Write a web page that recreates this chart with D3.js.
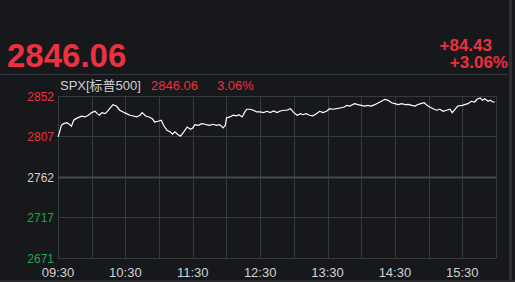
<!DOCTYPE html>
<html>
<head>
<meta charset="utf-8">
<script src="https://cdn.jsdelivr.net/npm/d3@7"></script>
<style>
  html, body { margin: 0; padding: 0; background: #16181c; overflow: hidden; }
  text { font-family: Arial, "Liberation Sans", "Noto Sans CJK SC", sans-serif; }
</style>
</head>
<body>
<div id="my_dataviz"></div>
<script>
// quote header
const lastPrice = "2846.06";
const change = "+84.43";
const changePct = "+3.06%";
const prevClose = 2761.63;

// minutes since 09:30 and price at that minute
const minutes = [0, 1, 3, 5, 8, 10, 12, 14, 16, 18, 21, 24, 27, 30, 33, 35, 37, 39, 42, 44, 46, 49, 52, 55, 58,
  61, 64, 67, 70, 73, 75, 78, 81, 84, 86, 89, 92, 94, 97, 100, 102, 104, 107, 109, 112, 115, 118, 120, 122, 125,
  128, 131, 132, 135, 138, 141, 144, 147, 149, 150, 153, 156, 159, 161, 164, 166, 168, 171, 174, 177, 180,
  183, 186, 189, 192, 195, 198, 201, 204, 207, 210, 213, 216, 218, 221, 224, 227, 230, 233, 236, 239,
  242, 245, 248, 251, 255, 257, 260, 262, 264, 267, 270, 273, 276, 279, 282, 285, 288, 291, 294, 297,
  300, 303, 306, 309, 312, 315, 318, 320, 323, 326, 328, 331, 334, 337, 340, 343, 346, 349, 351, 354,
  356, 360, 362, 365, 368, 371, 373, 376, 378, 380, 383, 385, 387, 389];
const prices = [2806.3, 2810.0, 2819.3, 2821.1, 2822.2, 2820.4, 2818.2, 2824.9, 2826.7, 2827.8, 2829.4, 2828.6, 2830.5, 2833.4, 2834.9, 2832.3, 2830.5, 2833.4, 2832.3, 2834.9, 2837.8, 2842.3, 2840.8, 2836.1, 2834.2,
  2832.3, 2830.5, 2829.7, 2828.6, 2830.5, 2833.4, 2829.7, 2828.6, 2826.7, 2823.0, 2823.8, 2824.9, 2819.3, 2813.7, 2811.9, 2809.3, 2811.9, 2808.8, 2807.1, 2811.9, 2817.4, 2814.9, 2816.3, 2820.0, 2819.3,
  2821.1, 2820.4, 2820.0, 2819.3, 2820.4, 2819.3, 2820.0, 2816.3, 2819.3, 2827.5, 2828.6, 2830.5, 2829.7, 2831.1, 2828.6, 2833.4, 2837.2, 2837.2, 2836.1, 2834.2, 2834.2,
  2833.4, 2834.9, 2833.4, 2835.3, 2833.4, 2835.3, 2836.1, 2836.1, 2837.8, 2833.4, 2830.5, 2832.3, 2831.1, 2832.3, 2830.5, 2829.7, 2832.3, 2834.9, 2833.4, 2834.9,
  2837.8, 2837.2, 2837.8, 2838.6, 2839.7, 2841.6, 2840.8, 2842.3, 2843.4, 2842.3, 2841.6, 2840.8, 2841.6, 2840.8, 2842.3, 2844.2, 2846.1, 2848.3, 2847.2, 2844.5,
  2843.4, 2842.3, 2843.4, 2842.3, 2842.7, 2841.6, 2840.8, 2842.3, 2843.4, 2844.5, 2842.3, 2839.7, 2837.8, 2836.1, 2837.2, 2834.9, 2836.1, 2837.2, 2833.4, 2837.8,
  2840.8, 2841.6, 2842.3, 2843.4, 2846.1, 2845.3, 2848.3, 2849.8, 2847.2, 2849.0, 2846.1, 2847.2, 2845.3, 2845.3];

// axis labels
const yTicks = [2852, 2807, 2762, 2717, 2671];
const xTickMinutes = [0, 60, 120, 180, 240, 300, 360];
const xTickLabels = ["09:30", "10:30", "11:30", "12:30", "13:30", "14:30", "15:30"];

const red = "#ec3140", green = "#22a54a", light = "#d2d2d2", gridColor = "#36393e";

const W = 515, H = 282;
const margin = { top: 96, right: 19, bottom: 24, left: 58 },
  width = W - margin.left - margin.right,
  height = H - margin.top - margin.bottom;

const svg = d3.select("#my_dataviz")
  .append("svg")
  .attr("width", W)
  .attr("height", H);

svg.append("rect").attr("width", W).attr("height", H).attr("fill", "#16181c");

// header separator and right side bar
svg.append("line").attr("x1", 0).attr("x2", 508).attr("y1", 74.5).attr("y2", 74.5)
  .attr("stroke", "#34373c").attr("stroke-width", 1);
svg.append("rect").attr("x", 509).attr("y", 0).attr("width", 3).attr("height", H).attr("fill", "#2c2e33");
svg.append("rect").attr("x", 0).attr("y", H - 2).attr("width", W).attr("height", 2).attr("fill", "#26282c");

// big price
svg.append("text")
  .attr("x", 7).attr("y", 67)
  .attr("fill", red)
  .style("font-size", "33px").style("font-weight", "bold")
  .text(lastPrice);

svg.append("text")
  .attr("x", 492).attr("y", 51).attr("text-anchor", "end")
  .attr("fill", red).style("font-size", "17px").style("font-weight", "bold")
  .text(change);
svg.append("text")
  .attr("x", 508).attr("y", 68).attr("text-anchor", "end")
  .attr("fill", red).style("font-size", "17px").style("font-weight", "bold")
  .text(changePct);

// legend line
const legend = svg.append("text").attr("y", 90).style("font-size", "13px");
legend.append("tspan").attr("x", 60).attr("fill", light).text("SPX[标普500]");
legend.append("tspan").attr("x", 151).attr("fill", red).text(lastPrice);
legend.append("tspan").attr("x", 217).attr("fill", red).text(changePct.replace("+", ""));

const g = svg.append("g")
  .attr("transform", "translate(" + margin.left + "," + margin.top + ")");

// scales
const x = d3.scaleLinear().domain([0, 390]).range([0, width]);
const y = d3.scaleLinear().domain([2671, 2852]).range([height, 0]);

// vertical grid every half hour
g.append("g")
  .selectAll("line")
  .data(d3.range(0, 391, 30))
  .enter()
  .append("line")
  .attr("x1", d => Math.round(x(d)) + 0.5)
  .attr("x2", d => Math.round(x(d)) + 0.5)
  .attr("y1", 0)
  .attr("y2", height)
  .attr("stroke", gridColor);

// horizontal grid
g.append("g")
  .selectAll("line")
  .data(yTicks)
  .enter()
  .append("line")
  .attr("x1", 0)
  .attr("x2", width)
  .attr("y1", d => Math.round(y(d)) + 0.5)
  .attr("y2", d => Math.round(y(d)) + 0.5)
  .attr("stroke", d => d == 2762 ? "#45484d" : gridColor)
  .attr("stroke-width", d => d == 2762 ? 2 : 1);

// y labels
g.append("g")
  .selectAll("text")
  .data(yTicks)
  .enter()
  .append("text")
  .attr("x", -4)
  .attr("y", d => y(d) + 5)
  .attr("text-anchor", "end")
  .style("font-size", "12px")
  .attr("fill", d => d > prevClose + 1 ? red : (d < prevClose - 1 ? green : light))
  .text(d => d);

// x labels
g.append("g")
  .selectAll("text")
  .data(xTickMinutes)
  .enter()
  .append("text")
  .attr("x", d => x(d))
  .attr("y", height + 19)
  .attr("text-anchor", "middle")
  .style("font-size", "13px")
  .attr("fill", light)
  .text((d, i) => xTickLabels[i]);

// price line
const line = d3.line()
  .x((d, i) => x(minutes[i]))
  .y(d => y(d));

g.append("path")
  .datum(prices)
  .attr("fill", "none")
  .attr("stroke", "#ffffff")
  .attr("stroke-width", 1.2)
  .attr("d", line);
</script>
</body>
</html>
